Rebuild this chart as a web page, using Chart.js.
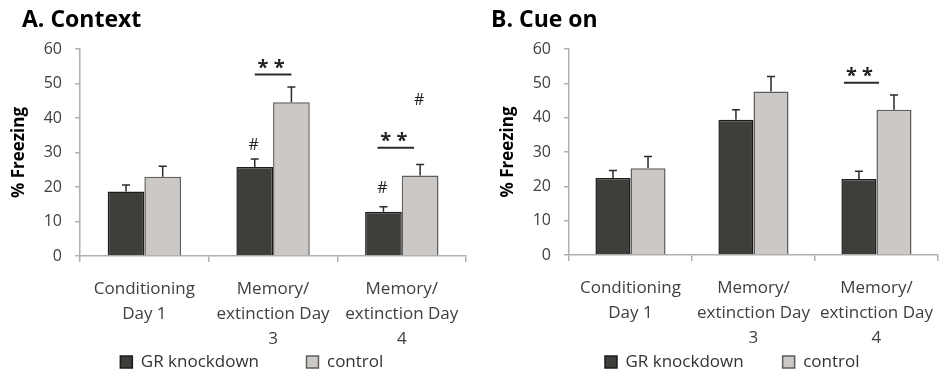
<!DOCTYPE html>
<html>
<head>
<meta charset="utf-8">
<script src="https://cdn.jsdelivr.net/npm/chart.js@4.4.0/dist/chart.umd.min.js"></script>
<style>
  html, body { margin: 0; padding: 0; background: #fff; }
  .panel { position: absolute; top: 0; width: 474px; height: 373px; }
</style>
</head>
<body>
<div class="panel" style="left:0"><canvas id="chartA"></canvas></div>
<div class="panel" style="left:474px"><canvas id="chartB"></canvas></div>
<script>
const categories = [['Conditioning', 'Day 1'], ['Memory/', 'extinction Day', '3'], ['Memory/', 'extinction Day', '4']];
const seriesNames = ['GR knockdown', 'control'];
const yTicks = [0, 10, 20, 30, 40, 50, 60];

// A. Context
const contextKnockdown = [18.7, 25.8, 12.8];
const contextKnockdownErr = [1.9, 2.3, 1.5];
const contextControl = [23.0, 44.6, 23.3];
const contextControlErr = [3.0, 4.4, 3.2];
const contextStars = [{ cat: 1, y: 52.6 }, { cat: 2, y: 31.4 }];
const contextHashes = [{ cat: 1, series: 0, y: 32.0 }, { cat: 2, series: 0, y: 19.5 }, { cat: 2, series: 1, y: 45.1 }];

// B. Cue on
const cueKnockdown = [22.4, 39.4, 22.1];
const cueKnockdownErr = [2.2, 2.9, 2.3];
const cueControl = [25.3, 47.6, 42.3];
const cueControlErr = [3.4, 4.4, 4.3];
const cueStars = [{ cat: 2, y: 50.2 }];
const cueHashes = [];

const FONT = "'Open Sans', sans-serif";
const EN = '\u2002';

// error bars, significance lines and the panel title
const marks = {
  id: 'marks',
  afterDatasetsDraw(chart, args, opts) {
    const ctx = chart.ctx;
    const y = chart.scales.y;
    ctx.save();
    ctx.strokeStyle = '#2a2a2a';
    ctx.lineWidth = 1.5;
    chart.data.datasets.forEach((ds, i) => {
      chart.getDatasetMeta(i).data.forEach((bar, j) => {
        const top = y.getPixelForValue(ds.data[j] + ds.errors[j]);
        ctx.beginPath();
        ctx.moveTo(bar.x, bar.y);
        ctx.lineTo(bar.x, top);
        ctx.moveTo(bar.x - 4, top);
        ctx.lineTo(bar.x + 4, top);
        ctx.stroke();
      });
    });

    ctx.fillStyle = '#222';
    ctx.textAlign = 'center';
    ctx.textBaseline = 'middle';
    (opts.stars || []).forEach((s, k) => {
      const b0 = chart.getDatasetMeta(0).data[s.cat];
      const b1 = chart.getDatasetMeta(1).data[s.cat];
      const shift = opts.starShift[k];
      const ly = y.getPixelForValue(s.y);
      ctx.beginPath();
      ctx.lineWidth = 2;
      ctx.moveTo(b0.x + shift, ly);
      ctx.lineTo(b1.x + shift, ly);
      ctx.stroke();
      ctx.font = 'bold 20px ' + FONT;
      ctx.fillText('* *', (b0.x + b1.x) / 2 + shift - 2, ly - 6);
    });
    ctx.font = '16px ' + FONT;
    (opts.hashes || []).forEach(h => {
      const b = chart.getDatasetMeta(h.series).data[h.cat];
      ctx.fillText('#', b.x - 1, y.getPixelForValue(h.y));
    });

    ctx.fillStyle = '#000';
    ctx.textAlign = 'left';
    ctx.textBaseline = 'alphabetic';
    ctx.font = 'bold 23px ' + FONT;
    ctx.fillText(opts.title, opts.titleX, 27);
    ctx.restore();
  }
};

function makeChart(id, knock, knockErr, ctrl, ctrlErr, cfg) {
  return new Chart(document.getElementById(id), {
    type: 'bar',
    data: {
      labels: categories,
      datasets: [
        {
          label: seriesNames[0],
          data: knock,
          errors: knockErr,
          backgroundColor: '#403e3a',
          borderColor: '#1c1c1c',
          borderWidth: 1.5
        },
        {
          label: seriesNames[1],
          data: ctrl,
          errors: ctrlErr,
          backgroundColor: '#cbc8c5',
          borderColor: '#5e5e5e',
          borderWidth: 1.5
        }
      ]
    },
    options: {
      responsive: false,
      animation: false,
      layout: { padding: { top: 49, left: cfg.padLeft, right: cfg.padRight, bottom: 0 } },
      datasets: { bar: { barPercentage: 1, categoryPercentage: 0.57 } },
      scales: {
        x: {
          grid: { offset: true, drawOnChartArea: false, tickLength: 6, color: '#b0b0b0', lineWidth: 1.5 },
          border: { color: '#b0b0b0', width: 1.5 },
          ticks: { color: '#404040', font: { family: FONT, size: 17, lineHeight: 1.47 }, padding: 15, maxRotation: 0, autoSkip: false },
          afterFit(scale) { scale.height = cfg.xHeight; }
        },
        y: {
          min: 0,
          max: 60,
          afterBuildTicks(scale) { scale.ticks = yTicks.map(v => ({ value: v })); },
          grid: { drawOnChartArea: false, tickLength: 5, color: '#b0b0b0', lineWidth: 1.5 },
          border: { color: '#b0b0b0', width: 1.5 },
          ticks: { color: '#404040', font: { family: FONT, size: 16 }, padding: 13 },
          title: { display: true, text: '% Freezing', color: '#000', font: { family: FONT, size: 17, weight: 'bold' }, padding: { top: 3, bottom: 0 } },
          afterFit(scale) { scale.width = 74; }
        }
      },
      plugins: {
        legend: {
          position: 'bottom',
          fullSize: false,
          maxHeight: cfg.legendHeight,
          labels: {
            boxWidth: 12,
            boxHeight: 12,
            padding: 5,
            color: '#333',
            font: { family: FONT, size: 17 },
            generateLabels(chart) {
              // trailing spaces keep the wide gap between the two entries
              return Chart.defaults.plugins.legend.labels.generateLabels(chart).map((item, i) => {
                item.text = item.text + EN.repeat(cfg.legendSpaces[i]);
                return item;
              });
            }
          }
        },
        tooltip: { enabled: false },
        marks: cfg.marks
      }
    },
    plugins: [marks]
  });
}

function sizeCanvas(id) {
  const c = document.getElementById(id);
  c.width = 474;
  c.height = 373;
  c.style.width = '474px';
  c.style.height = '373px';
}
sizeCanvas('chartA');
sizeCanvas('chartB');

makeChart('chartA', contextKnockdown, contextKnockdownErr, contextControl, contextControlErr, {
  padLeft: 6, padRight: 4, xHeight: 92.5, legendHeight: 24.5, legendSpaces: [5, 5],
  marks: { title: 'A. Context', titleX: 22, stars: contextStars, starShift: [0, -6], hashes: contextHashes }
});
makeChart('chartB', cueKnockdown, cueKnockdownErr, cueControl, cueControlErr, {
  padLeft: 21, padRight: 0, xHeight: 93.5, legendHeight: 24.5, legendSpaces: [4, 5],
  marks: { title: 'B. Cue on', titleX: 17, stars: cueStars, starShift: [-15], hashes: cueHashes }
});
</script>
</body>
</html>
